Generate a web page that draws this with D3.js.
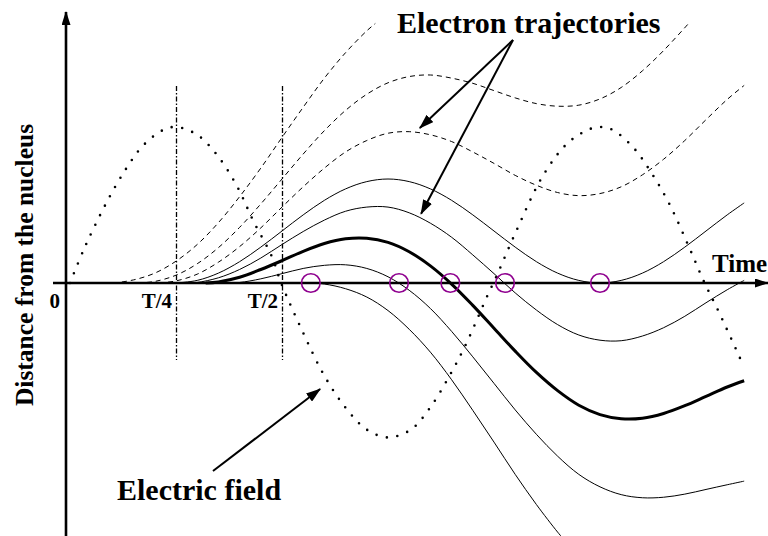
<!DOCTYPE html>
<html>
<head>
<meta charset="utf-8">
<script src="https://cdn.jsdelivr.net/npm/d3@7"></script>
<style>
  body { margin: 0; background: white; }
  text { font-family: "Liberation Serif", "Times New Roman", serif; font-weight: bold; }
</style>
</head>
<body>
<div id="container"></div>
<script>
let w = 768;
let h = 536;

// time in units of the period T, distance in arbitrary units
let fieldPoints = [[0,0],[0.035,0.23],[0.087,0.52],[0.134,0.74],[0.172,0.88],[0.219,0.98],[0.25,1.0],[0.30,0.95],[0.347,0.82],[0.394,0.62],[0.432,0.40],[0.476,0.17],[0.498,0],[0.55,-0.32],[0.601,-0.60],[0.653,-0.81],[0.70,-0.94],[0.75,-0.99],[0.804,-0.94],[0.849,-0.80],[0.896,-0.59],[0.936,-0.38],[0.983,-0.09],[1.007,0.05],[1.052,0.33],[1.116,0.69],[1.175,0.90],[1.229,0.99],[1.255,1.0],[1.281,0.98],[1.328,0.87],[1.368,0.72],[1.413,0.51],[1.46,0.23],[1.495,0.01],[1.531,-0.19],[1.58,-0.48]];

// electrons that never come back (dashed)
let escape1 = [[0.08,0],[0.10,0.00],[0.15,0.06],[0.20,0.19],[0.25,0.42],[0.30,0.74],[0.35,1.16],[0.40,1.66],[0.45,2.21],[0.50,2.80],[0.55,3.38],[0.60,3.94],[0.65,4.43],[0.70,4.85],[0.72,4.99]];
let escape2 = [[0.16,0],[0.20,0.03],[0.25,0.15],[0.30,0.37],[0.35,0.68],[0.40,1.07],[0.45,1.52],[0.50,2.00],[0.55,2.48],[0.60,2.93],[0.65,3.32],[0.70,3.63],[0.75,3.85],[0.80,3.97],[0.85,4.00],[0.90,3.94],[0.95,3.84],[1.00,3.70],[1.05,3.56],[1.10,3.45],[1.15,3.40],[1.20,3.42],[1.25,3.54],[1.30,3.76],[1.35,4.08],[1.40,4.47],[1.46,5.0]];
let escape3 = [[0.21,0],[0.25,0.04],[0.30,0.17],[0.35,0.40],[0.40,0.70],[0.45,1.06],[0.50,1.46],[0.55,1.85],[0.60,2.21],[0.65,2.52],[0.70,2.74],[0.75,2.88],[0.80,2.91],[0.85,2.85],[0.90,2.72],[0.95,2.52],[1.00,2.30],[1.05,2.07],[1.10,1.88],[1.15,1.74],[1.20,1.68],[1.25,1.72],[1.30,1.85],[1.35,2.08],[1.40,2.38],[1.45,2.74],[1.50,3.14],[1.55,3.53],[1.59,3.80]];

// electrons that come back to the nucleus (solid)
let return1 = [[0.25,0],[0.30,0.05],[0.35,0.19],[0.40,0.41],[0.45,0.69],[0.50,1.00],[0.55,1.31],[0.60,1.59],[0.65,1.81],[0.70,1.95],[0.75,2.00],[0.80,1.95],[0.85,1.81],[0.90,1.59],[0.95,1.31],[1.00,1.00],[1.05,0.69],[1.10,0.41],[1.15,0.19],[1.20,0.05],[1.25,0],[1.30,0.05],[1.35,0.19],[1.40,0.41],[1.45,0.69],[1.50,1.00],[1.55,1.31],[1.59,1.54]];
let return2 = [[0.28,0],[0.30,0.01],[0.35,0.10],[0.40,0.26],[0.45,0.48],[0.50,0.74],[0.55,0.99],[0.60,1.21],[0.65,1.38],[0.70,1.46],[0.75,1.46],[0.80,1.35],[0.85,1.15],[0.90,0.88],[0.95,0.54],[1.00,0.18],[1.05,-0.19],[1.10,-0.52],[1.15,-0.80],[1.20,-1.00],[1.25,-1.10],[1.30,-1.11],[1.35,-1.02],[1.40,-0.86],[1.45,-0.64],[1.50,-0.38],[1.55,-0.13],[1.59,0.05]];
let returnBold = [[0.32,0],[0.35,0.02],[0.40,0.11],[0.45,0.26],[0.50,0.43],[0.55,0.61],[0.60,0.76],[0.65,0.85],[0.70,0.86],[0.75,0.78],[0.80,0.60],[0.85,0.33],[0.90,-0.02],[0.95,-0.43],[1.00,-0.87],[1.05,-1.31],[1.10,-1.72],[1.15,-2.07],[1.20,-2.35],[1.25,-2.53],[1.30,-2.61],[1.35,-2.60],[1.40,-2.51],[1.45,-2.36],[1.50,-2.18],[1.55,-2.00],[1.59,-1.88]];
let return3 = [[0.37,0],[0.40,0.01],[0.45,0.08],[0.50,0.18],[0.55,0.28],[0.60,0.34],[0.65,0.35],[0.70,0.28],[0.75,0.12],[0.80,-0.14],[0.85,-0.49],[0.90,-0.93],[0.95,-1.42],[1.00,-1.93],[1.05,-2.44],[1.10,-2.91],[1.15,-3.33],[1.20,-3.68],[1.25,-3.92],[1.30,-4.07],[1.35,-4.13],[1.40,-4.12],[1.45,-4.06],[1.50,-3.97],[1.55,-3.88],[1.59,-3.81]];
let return4 = [[0.46,0],[0.50,0.00],[0.55,0.01],[0.60,-0.02],[0.65,-0.11],[0.70,-0.27],[0.75,-0.53],[0.80,-0.89],[0.85,-1.33],[0.90,-1.86],[0.95,-2.45],[1.00,-3.06],[1.05,-3.68],[1.10,-4.26],[1.15,-4.79],[1.17,-4.98]];

// times at which the electrons cross the nucleus again
let returnTimes = [0.568, 0.776, 0.897, 1.026, 1.25];

let tickTimes = [0, 0.25, 0.5];
let tickLabels = ["0", "T/4", "T/2"];
let guideTimes = [0.25, 0.5];

let x = d3.scaleLinear().domain([0, 1.6]).range([70, 748.4]);
let y = d3.scaleLinear().domain([-5, 5]).range([543, 23]);
let yField = d3.scaleLinear().domain([-1, 1]).range([439, 127]);

let viz = d3.select("#container")
  .append("svg")
  .attr("width", w)
  .attr("height", h)
  .style("background-color", "white");

let defs = viz.append("defs");
defs.append("marker")
  .attr("id", "head")
  .attr("markerUnits", "userSpaceOnUse")
  .attr("markerWidth", 15)
  .attr("markerHeight", 10)
  .attr("refX", 14)
  .attr("refY", 5)
  .attr("orient", "auto")
  .append("path")
  .attr("d", "M0,0 L15,5 L0,10 Z")
  .attr("fill", "black");
defs.append("marker")
  .attr("id", "axisHead")
  .attr("markerUnits", "userSpaceOnUse")
  .attr("markerWidth", 14)
  .attr("markerHeight", 9)
  .attr("refX", 13)
  .attr("refY", 4.5)
  .attr("orient", "auto")
  .append("path")
  .attr("d", "M0,0 L14,4.5 L0,9 Z")
  .attr("fill", "black");

let axisX = x(0) - 4;

// guide lines at T/4 and T/2
viz.selectAll(".guide")
  .data(guideTimes)
  .enter()
  .append("line")
  .attr("class", "guide")
  .attr("x1", d => x(d) + 0.5)
  .attr("x2", d => x(d) + 0.5)
  .attr("y1", y(3.79))
  .attr("y2", y(-1.48))
  .attr("stroke", "black")
  .attr("stroke-width", 1.3)
  .attr("stroke-dasharray", "5,2,1.5,2");

let line = d3.line()
  .x(d => x(d[0]))
  .y(d => y(d[1]))
  .curve(d3.curveCatmullRom);

let fieldLine = d3.line()
  .x(d => x(d[0]))
  .y(d => yField(d[1]))
  .curve(d3.curveCatmullRom);

viz.append("path")
  .attr("d", fieldLine(fieldPoints))
  .attr("fill", "none")
  .attr("stroke", "black")
  .attr("stroke-width", 2.6)
  .attr("stroke-linecap", "round")
  .attr("stroke-dasharray", "0,10.6");

viz.selectAll(".escape")
  .data([escape1, escape2, escape3])
  .enter()
  .append("path")
  .attr("class", "escape")
  .attr("d", line)
  .attr("fill", "none")
  .attr("stroke", "black")
  .attr("stroke-width", 1)
  .attr("stroke-dasharray", "5,4");

viz.selectAll(".return")
  .data([return1, return2, return3, return4])
  .enter()
  .append("path")
  .attr("class", "return")
  .attr("d", line)
  .attr("fill", "none")
  .attr("stroke", "black")
  .attr("stroke-width", 1);

viz.append("path")
  .attr("d", line(returnBold))
  .attr("fill", "none")
  .attr("stroke", "black")
  .attr("stroke-width", 3);

// axes
viz.append("line")
  .attr("x1", axisX - 13)
  .attr("x2", w)
  .attr("y1", y(0))
  .attr("y2", y(0))
  .attr("stroke", "black")
  .attr("stroke-width", 2.6)
  .attr("marker-end", "url(#axisHead)");

viz.append("line")
  .attr("x1", axisX)
  .attr("x2", axisX)
  .attr("y1", h)
  .attr("y2", 12)
  .attr("stroke", "black")
  .attr("stroke-width", 2.6)
  .attr("marker-end", "url(#axisHead)");

viz.selectAll(".returnMark")
  .data(returnTimes)
  .enter()
  .append("circle")
  .attr("class", "returnMark")
  .attr("cx", d => x(d))
  .attr("cy", y(0))
  .attr("r", 9.3)
  .attr("fill", "none")
  .attr("stroke", "#8f008f")
  .attr("stroke-width", 1.6);

viz.selectAll(".tick")
  .data(tickTimes)
  .enter()
  .append("text")
  .attr("class", "tick")
  .attr("x", (d, i) => i === 0 ? axisX - 6 : x(d) - 4)
  .attr("y", y(0) + 25)
  .attr("text-anchor", "end")
  .attr("font-size", 21)
  .text((d, i) => tickLabels[i]);

viz.append("text")
  .attr("x", 712)
  .attr("y", 272)
  .attr("font-size", 25)
  .text("Time");

viz.append("text")
  .attr("transform", "translate(33," + 265 + ") rotate(-90)")
  .attr("text-anchor", "middle")
  .attr("font-size", 25.5)
  .text("Distance from the nucleus");

viz.append("text")
  .attr("x", 397)
  .attr("y", 33)
  .attr("font-size", 30)
  .text("Electron trajectories");

viz.append("text")
  .attr("x", 117)
  .attr("y", 500)
  .attr("font-size", 30)
  .text("Electric field");

// pointers from the labels
let pointers = [
  { from: [513, 40], to: [x(0.825), y(2.98)] },
  { from: [513, 40], to: [x(0.828), y(1.33)] },
  { from: [213, 471], to: [x(0.59), yField(-0.68)] }
];

viz.selectAll(".pointer")
  .data(pointers)
  .enter()
  .append("line")
  .attr("class", "pointer")
  .attr("x1", d => d.from[0])
  .attr("y1", d => d.from[1])
  .attr("x2", d => d.to[0])
  .attr("y2", d => d.to[1])
  .attr("stroke", "black")
  .attr("stroke-width", 2)
  .attr("marker-end", "url(#head)");
</script>
</body>
</html>
